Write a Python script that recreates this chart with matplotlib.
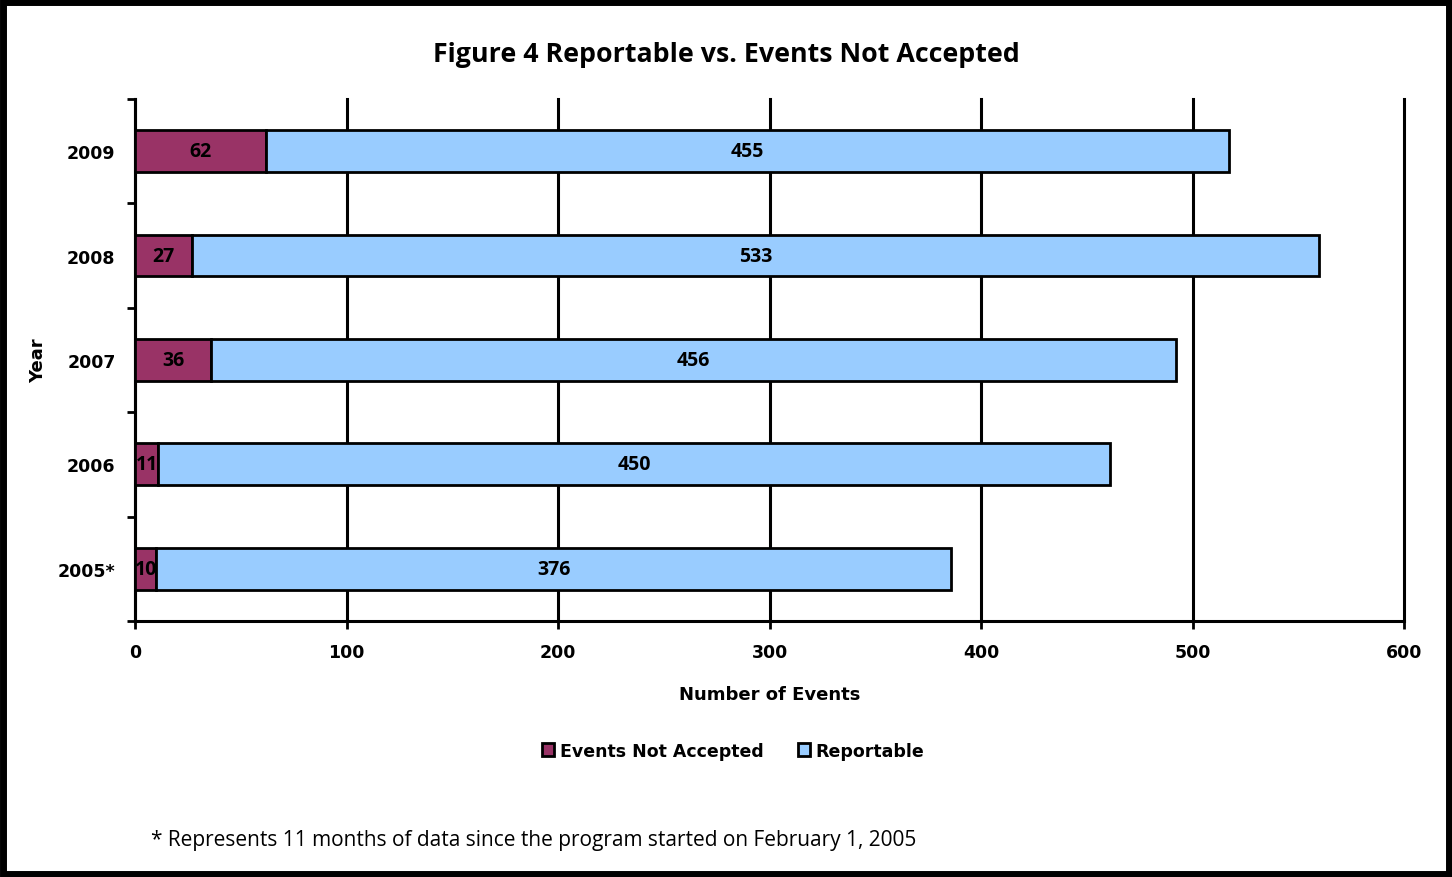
import numpy as np
import matplotlib.pyplot as plt
from matplotlib.patches import Rectangle

years = ['2005*', '2006', '2007', '2008', '2009']
not_accepted = [10, 11, 36, 27, 62]
reportable = [376, 450, 456, 533, 455]
x_ticks = [0, 100, 200, 300, 400, 500, 600]

plt.rcParams['font.family'] = ['Open Sans', 'DejaVu Sans']
tick_font = {'family': 'DejaVu Sans', 'weight': 'bold', 'size': 12.5}

fig = plt.figure(figsize=(14.52, 8.78), dpi=100)
ax = fig.add_axes([0.093, 0.2916, 0.874, 0.5946])

y = np.arange(len(years))
h = 0.4
b1 = ax.barh(y, not_accepted, height=h, color='#993366', edgecolor='black', linewidth=2, label='Events Not Accepted', zorder=3)
b2 = ax.barh(y, reportable, left=not_accepted, height=h, color='#99CCFF', edgecolor='black', linewidth=2, label='Reportable', zorder=3)

for i in range(len(years)):
    ax.text(not_accepted[i] / 2, y[i], str(not_accepted[i]), ha='center', va='center', fontsize=14, fontweight='bold', zorder=4)
    ax.text(not_accepted[i] + reportable[i] / 2, y[i], str(reportable[i]), ha='center', va='center', fontsize=14, fontweight='bold', zorder=4)

ax.set_xlim(0, 600)
ax.set_ylim(-0.5, 4.5)
ax.set_xticks(x_ticks)
ax.set_xticklabels([str(v) for v in x_ticks], fontdict=tick_font)
ax.set_yticks(y)
ax.set_yticklabels(years, fontdict=tick_font)
ax.set_yticks(np.arange(-0.5, 5, 1), minor=True)
ax.tick_params(axis='y', which='major', length=0, pad=14)
ax.tick_params(axis='y', which='minor', length=6, width=2, direction='out')
ax.tick_params(axis='x', length=6, width=2, direction='out', pad=10)
ax.grid(axis='x', color='black', linewidth=2.2, zorder=0)
for gl in ax.xaxis.get_gridlines():
    gl.set_clip_on(False)
ax.set_axisbelow(True)
for s in ['top', 'right']:
    ax.spines[s].set_visible(False)
for s in ['left', 'bottom']:
    ax.spines[s].set_linewidth(2.2)

ax.set_xlabel('Number of Events', fontdict={'family': 'DejaVu Sans', 'weight': 'bold', 'size': 13}, labelpad=17)
ax.set_ylabel('Year', fontdict={'family': 'DejaVu Sans', 'weight': 'bold', 'size': 13})
ax.yaxis.set_label_coords(-0.069, 0.5)

fig.text(0.5, 0.937, 'Figure 4 Reportable vs. Events Not Accepted', ha='center', va='center', fontsize=19.3, fontweight='bold')

fig.legend(handles=[b1, b2], loc='center', bbox_to_anchor=(0.505, 0.144), ncol=2, frameon=False,
           prop={'family': 'DejaVu Sans', 'size': 12.5, 'weight': 'bold'},
           handlelength=0.7, handleheight=0.7, handletextpad=0.3, columnspacing=2)

fig.text(0.104, 0.043, '* Represents 11 months of data since the program started on February 1, 2005', ha='left', va='center', fontsize=15)

fig.patches.append(Rectangle((0.002, 0.003), 0.996, 0.994, transform=fig.transFigure, fill=False, edgecolor='black', linewidth=5))

plt.savefig('out.png', dpi=100)
plt.close(fig)
